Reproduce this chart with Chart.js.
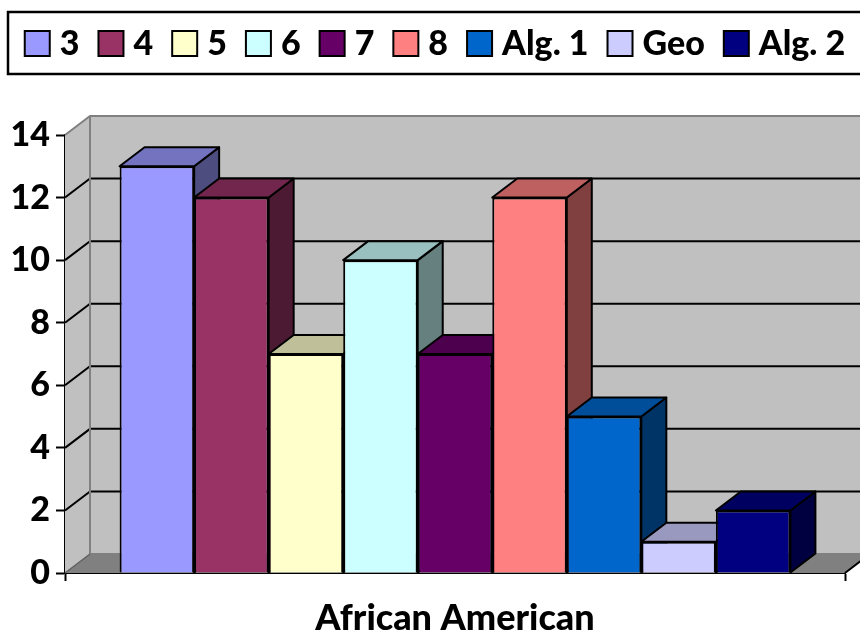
<!DOCTYPE html>
<html>
<head>
<meta charset="utf-8">
<script src="https://cdn.jsdelivr.net/npm/chart.js@4"></script>
<style>
  html, body { margin: 0; padding: 0; background: #fff; }
  canvas { display: block; }
</style>
</head>
<body>
<canvas id="chart" width="860" height="632"></canvas>
<script>
const categories = ["African American"];
const seriesNames = ["3", "4", "5", "6", "7", "8", "Alg. 1", "Geo", "Alg. 2"];
const seriesValues = [13, 12, 7, 10, 7, 12, 5, 1, 2];
const seriesColors = ["#9999FF", "#993366", "#FFFFCC", "#CCFFFF", "#660066", "#FF8080", "#0066CC", "#CCCCFF", "#000080"];

const FONT = "Lato, 'Open Sans', sans-serif";
const WEIGHT = 900;
// depth of the fake 3d box
const DX = 25, DY = 19;

function shade(hex, f) {
    const n = parseInt(hex.slice(1), 16);
    const r = Math.round(((n >> 16) & 255) * f);
    const g = Math.round(((n >> 8) & 255) * f);
    const b = Math.round((n & 255) * f);
    return `rgb(${r},${g},${b})`;
}

function poly(ctx, pts, fill, stroke, lw) {
    ctx.beginPath();
    ctx.moveTo(pts[0][0], pts[0][1]);
    for (let i = 1; i < pts.length; i++) ctx.lineTo(pts[i][0], pts[i][1]);
    ctx.closePath();
    if (fill) { ctx.fillStyle = fill; ctx.fill(); }
    if (stroke) { ctx.strokeStyle = stroke; ctx.lineWidth = lw || 2; ctx.lineJoin = "round"; ctx.stroke(); }
}

function line(ctx, pts, color, lw) {
    ctx.beginPath();
    ctx.moveTo(pts[0][0], pts[0][1]);
    for (let i = 1; i < pts.length; i++) ctx.lineTo(pts[i][0], pts[i][1]);
    ctx.strokeStyle = color;
    ctx.lineWidth = lw;
    ctx.stroke();
}

// Walls, floor, back grid and the top/side faces of the bars
const walls = {
    id: "walls",
    beforeDatasetsDraw(chart) {
        const ctx = chart.ctx;
        const { left, right, top, bottom } = chart.chartArea;
        const yScale = chart.scales.y;
        ctx.save();

        poly(ctx, [[left + DX, top - DY], [right + DX, top - DY], [right + DX, bottom - DY], [left + DX, bottom - DY]], "#C0C0C0");
        poly(ctx, [[left, bottom], [left, top], [left + DX, top - DY], [left + DX, bottom - DY]], "#C0C0C0");
        poly(ctx, [[left, bottom], [right, bottom], [right + DX, bottom - DY], [left + DX, bottom - DY]], "#808080");

        yScale.ticks.forEach(t => {
            if (t.value === yScale.min || t.value === yScale.max) return;
            const py = yScale.getPixelForValue(t.value);
            line(ctx, [[left, py], [left + DX, py - DY], [right + DX, py - DY]], "#000", 2);
        });

        line(ctx, [[left, top], [left + DX, top - DY], [right + DX, top - DY]], "#808080", 2);
        line(ctx, [[left + DX, top - DY], [left + DX, bottom - DY], [right + DX, bottom - DY]], "#808080", 2);
        line(ctx, [[left, bottom], [left + DX, bottom - DY]], "#606060", 1.5);
        line(ctx, [[right, bottom], [right + DX, bottom - DY]], "#000", 2);

        chart.data.datasets.forEach((ds, i) => {
            const bar = chart.getDatasetMeta(i).data[0];
            const l = bar.x - bar.width / 2, r = bar.x + bar.width / 2;
            const t = bar.y, b = bar.base;
            poly(ctx, [[r, b], [r, t], [r + DX, t - DY], [r + DX, b - DY]], shade(ds.backgroundColor, 0.5), "#000", 2);
            poly(ctx, [[l, t], [r, t], [r + DX, t - DY], [l + DX, t - DY]], shade(ds.backgroundColor, 0.75), "#000", 2);
        });

        ctx.restore();
    }
};

// Boxed legend across the top
const boxLegend = {
    id: "boxLegend",
    afterDraw(chart) {
        const ctx = chart.ctx;
        const box = 25, gap = 10, itemGap = 19;
        ctx.save();
        ctx.font = `${WEIGHT} 34px ${FONT}`;
        const widths = chart.data.datasets.map(ds => box + gap + ctx.measureText(ds.label).width);
        const total = widths.reduce((a, b) => a + b, 0) + itemGap * (widths.length - 1);
        let x = 435 - total / 2;
        ctx.textBaseline = "middle";
        ctx.textAlign = "left";
        chart.data.datasets.forEach((ds, i) => {
            ctx.fillStyle = ds.backgroundColor;
            ctx.fillRect(x, 31, box, box);
            ctx.strokeStyle = "#000";
            ctx.lineWidth = 2;
            ctx.strokeRect(x, 31, box, box);
            ctx.fillStyle = "#000";
            ctx.fillText(ds.label, x + box + gap, 44);
            x += widths[i] + itemGap;
        });
        ctx.lineWidth = 2.5;
        ctx.strokeRect(8, 12, 870, 62);
        ctx.restore();
    }
};

new Chart(document.getElementById("chart"), {
    type: "bar",
    data: {
        labels: categories,
        datasets: seriesNames.map((name, i) => ({
            label: name,
            data: [seriesValues[i]],
            backgroundColor: seriesColors[i],
            borderColor: "#000",
            borderWidth: 2,
            categoryPercentage: 0.86,
            barPercentage: 1
        }))
    },
    options: {
        responsive: false,
        animation: false,
        layout: { padding: { top: 135, left: 10, right: 15, bottom: 0 } },
        plugins: {
            legend: { display: false },
            tooltip: { enabled: false }
        },
        scales: {
            x: {
                z: 1,
                grid: { offset: true, drawOnChartArea: false, tickLength: 8, tickColor: "#000", tickWidth: 2 },
                border: { color: "#000", width: 2 },
                ticks: { color: "#000", font: { family: FONT, size: 36, weight: WEIGHT }, padding: 16 },
                afterFit: s => { s.height = 59; }
            },
            y: {
                z: 1,
                min: 0,
                max: 14,
                ticks: { stepSize: 2, color: "#000", font: { family: FONT, size: 34, weight: WEIGHT }, padding: 6 },
                grid: { drawOnChartArea: false, tickLength: 9, tickColor: "#000", tickWidth: 2 },
                border: { color: "#000", width: 2 },
                afterFit: s => { s.width = 55; }
            }
        }
    },
    plugins: [walls, boxLegend]
});
</script>
</body>
</html>
